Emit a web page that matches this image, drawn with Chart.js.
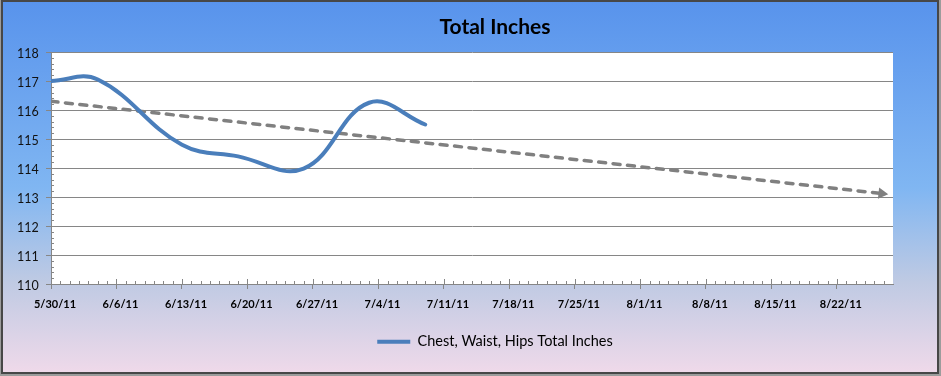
<!DOCTYPE html>
<html>
<head>
<meta charset="utf-8">
<style>
html,body{margin:0;padding:0;background:#fff;}
canvas{display:block;}
</style>
<script src="https://cdn.jsdelivr.net/npm/chart.js@4/dist/chart.umd.min.js"></script>
</head>
<body>
<canvas id="c" width="941" height="376"></canvas>
<script>
// ---- data ----
const START_DATE = '2011-05-30';
const measureDates = ['2011-05-30', '2011-06-04', '2011-06-13', '2011-06-19', '2011-06-26', '2011-07-03', '2011-07-09'];
const totalInches = [117.0, 117.05, 114.8, 114.4, 113.98, 116.25, 115.5];
const trendDays = [0, 88.8];
const trendValues = [116.3, 113.12];
const tickLabels = ['5/30/11', '6/6/11', '6/13/11', '6/20/11', '6/27/11', '7/4/11', '7/11/11',
                    '7/18/11', '7/25/11', '8/1/11', '8/8/11', '8/15/11', '8/22/11'];
const yTicks = [110, 111, 112, 113, 114, 115, 116, 117, 118];

const DAY_MS = 86400000;
const toDay = s => Math.round((Date.parse(s) - Date.parse(START_DATE)) / DAY_MS);

const mainData = measureDates.map((d, i) => ({ x: toDay(d), y: totalInches[i] }));
const trendData = trendDays.map((d, i) => ({ x: d, y: trendValues[i] }));

const AXIS_GRAY = '#868686';
const LEGEND_BOTTOM_PAD = 17;
const PLOT_BOTTOM = 284;

const bgPlugin = {
  id: 'bg',
  beforeDraw(chart) {
    const ctx = chart.ctx, W = chart.width, H = chart.height;
    ctx.save();
    ctx.fillStyle = '#9c9c9c';
    ctx.fillRect(0, 0, W, H);
    const g = ctx.createLinearGradient(0, 0, 0, H);
    g.addColorStop(0, '#5893EC');
    g.addColorStop(0.5, '#80B6F2');
    g.addColorStop(0.75, '#BFCAE3');
    g.addColorStop(1, '#F1DAEA');
    ctx.fillStyle = g;
    ctx.fillRect(1, 0, W - 4, H - 3);
    ctx.strokeStyle = '#474747';
    ctx.lineWidth = 2;
    ctx.strokeRect(2, 1, W - 5, H - 4);
    const a = chart.chartArea;
    ctx.fillStyle = '#ffffff';
    ctx.fillRect(a.left, a.top, a.right - a.left, a.bottom - a.top);
    ctx.restore();
  }
};

const minorTicks = {
  id: 'minorTicks',
  afterDraw(chart) {
    const ctx = chart.ctx, x = chart.scales.x, y = chart.scales.y, a = chart.chartArea;
    ctx.save();
    ctx.strokeStyle = AXIS_GRAY;
    ctx.lineWidth = 1;
    ctx.beginPath();
    for (let d = 1; d < 90; d++) {
      const px = Math.round(x.getPixelForValue(d)) + 0.5;
      const len = (d % 7 === 0) ? 5 : 3;
      ctx.moveTo(px, a.bottom);
      ctx.lineTo(px, a.bottom - len);
    }
    for (let v = 110.2; v < 118; v += 0.2) {
      if (Math.abs(v - Math.round(v)) < 0.01) continue;
      const py = Math.round(y.getPixelForValue(v)) + 0.5;
      ctx.moveTo(a.left, py);
      ctx.lineTo(a.left + 3, py);
    }
    ctx.stroke();
    ctx.restore();
  }
};

new Chart(document.getElementById('c'), {
  type: 'line',
  data: {
    datasets: [
      {
        label: 'Chest, Waist, Hips Total Inches',
        data: mainData,
        borderColor: '#4A7EBB',
        backgroundColor: '#4A7EBB',
        borderWidth: 4,
        tension: 0.4,
        pointRadius: 0,
        pointStyle: 'line',
        borderCapStyle: 'round',
        borderJoinStyle: 'round',
        fill: false,
        order: 1
      },
      {
        label: 'Trend',
        data: trendData,
        borderColor: '#808080',
        backgroundColor: '#808080',
        borderWidth: 3.5,
        borderDash: [7, 7.5],
        borderCapStyle: 'round',
        tension: 0,
        pointStyle: 'triangle',
        pointRadius: [0, 6.5],
        pointRotation: [0, 96.3],
        pointBackgroundColor: '#808080',
        pointBorderColor: '#808080',
        pointBorderWidth: 0,
        fill: false,
        order: 2
      }
    ]
  },
  options: {
    responsive: false,
    animation: false,
    devicePixelRatio: 1,
    layout: { padding: { left: 50, right: 1, top: 0, bottom: LEGEND_BOTTOM_PAD } },
    plugins: {
      title: {
        display: true,
        text: 'Total Inches',
        color: '#000',
        font: { family: 'Lato', size: 21, weight: 'bold' },
        padding: { top: 15, bottom: 11.8 }
      },
      legend: {
        position: 'bottom',
        labels: {
          filter: item => item.datasetIndex === 0,
          usePointStyle: true,
          pointStyle: 'line',
          pointStyleWidth: 33,
          color: '#000',
          font: { family: 'Lato', size: 14.5 },
          padding: 10
        }
      },
      tooltip: { enabled: false }
    },
    scales: {
      x: {
        type: 'linear',
        min: 0,
        max: 90,
        afterBuildTicks: s => { s.ticks = tickLabels.map((_, i) => ({ value: i * 7 })); },
        ticks: {
          autoSkip: false,
          maxRotation: 0,
          minRotation: 0,
          callback: v => tickLabels[Math.round(v / 7)] ?? '',
          font: { family: 'Lato', size: 11, weight: 'bold' },
          color: '#000',
          padding: 9,
          labelOffset: 4
        },
        grid: { drawOnChartArea: false, drawTicks: true, tickLength: 5, tickColor: AXIS_GRAY },
        border: { color: AXIS_GRAY },
        afterFit: s => {
          const lh = s.chart.legend ? s.chart.legend.height : 34;
          s.height = s.chart.height - LEGEND_BOTTOM_PAD - lh - PLOT_BOTTOM;
        }
      },
      y: {
        min: 110,
        max: 118,
        afterBuildTicks: s => { s.ticks = yTicks.map(v => ({ value: v })); },
        ticks: {
          callback: v => String(v),
          font: { family: 'Lato', size: 12.5 },
          color: '#111',
          mirror: true,
          padding: -34,
          labelOffset: 2
        },
        grid: { color: AXIS_GRAY, tickLength: 5, tickColor: AXIS_GRAY },
        border: { color: AXIS_GRAY },
        afterFit: s => { s.width = 1; }
      },
      y2: {
        position: 'right',
        display: true,
        ticks: { display: false },
        grid: { display: false },
        border: { display: false },
        afterFit: s => { s.width = 47; }
      }
    }
  },
  plugins: [bgPlugin, minorTicks]
});
</script>
</body>
</html>
